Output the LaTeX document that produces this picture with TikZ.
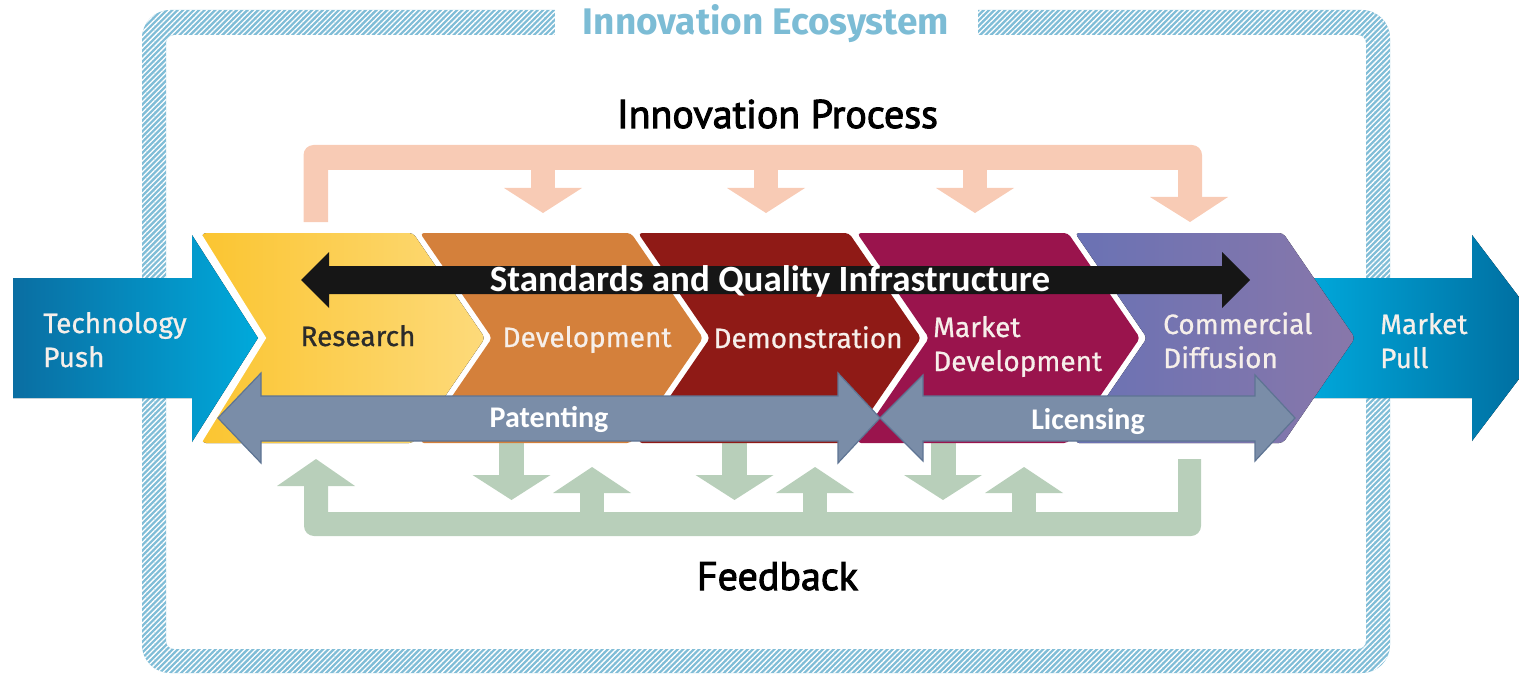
\documentclass[tikz,border=0pt]{standalone}
\usepackage{fontspec}
\setmainfont{Fira Sans}
\newfontfamily\firamed{Fira Sans}[FakeBold=0.7]
\newfontfamily\ptsans{PT Sans}[FakeBold=2.5]
\newfontfamily\carlito{Carlito}
\usetikzlibrary{patterns.meta}
\definecolor{ecoblue}{HTML}{80BDD7}
\definecolor{ecotext}{HTML}{7CBCD5}
\definecolor{peach}{HTML}{F8CBB5}
\definecolor{sage}{HTML}{B8CFBA}
\definecolor{resL}{HTML}{FBC531}
\definecolor{resR}{HTML}{FDDA7A}
\definecolor{devC}{HTML}{D4803B}
\definecolor{demC}{HTML}{8F1A16}
\definecolor{mktC}{HTML}{9A144D}
\definecolor{comL}{HTML}{6A72B4}
\definecolor{comR}{HTML}{8877AA}
\definecolor{pushL}{HTML}{0A6EA2}
\definecolor{pushR}{HTML}{00A9DB}
\definecolor{pullL}{HTML}{00AADD}
\definecolor{pullR}{HTML}{00689A}
\definecolor{sqiC}{HTML}{161616}
\definecolor{patC}{HTML}{7A8DA8}
\definecolor{patD}{HTML}{5E7493}
\definecolor{lblW}{HTML}{F6EFEA}
\definecolor{resT}{HTML}{2B2B2B}
\begin{document}
\begin{tikzpicture}[x=1pt,y=-1pt,
  lbl/.style={font=\firamed\fontsize{28}{34}\selectfont, text=lblW, inner sep=0pt},
  lblL/.style={lbl, align=left, anchor=base west},
  head/.style={font=\ptsans\fontsize{40}{44}\selectfont, text=black, inner sep=0pt, anchor=base},
  barlbl/.style={font=\carlito\bfseries\fontsize{30}{34}\selectfont, text=white, inner sep=0pt, anchor=base},
  blockarrow/.style={fill=patC, draw=patD, line width=1.2pt, line join=miter}
]
\useasboundingbox (0,0) rectangle (1519,674);
% ecosystem frame
\fill[ecoblue, even odd rule, rounded corners=28] (142,10) rectangle (1390,673) [rounded corners=8] (166,35) rectangle (1366,649);
\fill[pattern={Lines[angle=45,distance=3.8pt,line width=1.3pt]}, pattern color=white, even odd rule, rounded corners=28] (142,10) rectangle (1390,673) [rounded corners=8] (166,35) rectangle (1366,649);
\fill[white] (555,0) rectangle (978,42);
\node[font=\bfseries\fontsize{37}{40}\selectfont, text=ecotext, inner sep=0pt, anchor=base] (eco) at (766,35) {Innovation Ecosystem};

% innovation process bracket
\fill[peach] (303.5,200) [rounded corners=10] -- (303.5,145) -- (1202,145) -- (1202,180) [sharp corners] -- (1202,197) -- (1178,197) -- (1178,170) -- (328,170) -- (328,222) -- (303.5,222) -- cycle;
\fill[peach] (1150,197) -- (1190,222) -- (1228,197) -- cycle;
\foreach \c in {543,766,975}{
  \fill[peach] (\c-12,169) rectangle (\c+12,189);
  \fill[peach] (\c-39,188) -- (\c,213) -- (\c+39,188) -- cycle;
}
\node[head] (proc) at (777.5,128) {Innovation Process};

% feedback bracket
\fill[sage] (304,500) [rounded corners=10] -- (304,536) -- (1201,536) -- (1201,500) [sharp corners] -- (1201,459) -- (1178,459) -- (1178,512) -- (328,512) -- (328,485) -- (304,485) -- cycle;
\fill[sage] (277,486) -- (316,459) -- (355,486) -- cycle;
\foreach \c in {592,815,1024}{
  \fill[sage] (\c-12,492) rectangle (\c+12,513);
  \fill[sage] (\c-39,493) -- (\c,467) -- (\c+39,493) -- cycle;
}
\foreach \c in {511.5,734.5,943}{
  \fill[sage] (\c-12.5,440) rectangle (\c+12.5,476);
  \fill[sage] (\c-39,475) -- (\c,500) -- (\c+39,475) -- cycle;
}
\node[head] (fb) at (777.5,590) {Feedback};

% market pull arrow
\fill[left color=pullL, right color=pullR] (1300,278) -- (1472,278) -- (1472,235) -- (1550,338) -- (1472,441) -- (1472,398) -- (1300,398) -- cycle;

% chevrons
\fill[left color=resL, right color=resR, rounded corners=4] (202,233) -- (413,233) -- (485,338) -- (413,443) -- (202,443) -- cycle;
\fill[devC, rounded corners=4] (420,233) -- (631,233) -- (703,338) -- (631,443) -- (420,443) -- (492,338) -- cycle;
\fill[demC, rounded corners=4] (638,233) -- (849,233) -- (921,338) -- (849,443) -- (638,443) -- (710,338) -- cycle;
\fill[mktC, rounded corners=4] (857,233) -- (1068,233) -- (1140,338) -- (1068,443) -- (857,443) -- (929,338) -- cycle;
\fill[left color=comL, right color=comR, rounded corners=4] (1075,233) -- (1283,233) -- (1355,338) -- (1283,443) -- (1075,443) -- (1147,338) -- cycle;

% technology push arrow
\draw[white, line width=14pt, line join=miter] (192,232) -- (258,338) -- (192,445);
\fill[left color=pushL, right color=pushR] (13,278) -- (192,278) -- (192,235) -- (258,338) -- (192,442) -- (192,398) -- (13,398) -- cycle;

% standards double arrow
\fill[sqiC] (301,280) -- (329,252) -- (329,266) -- (1222,266) -- (1222,252) -- (1250,280) -- (1222,308) -- (1222,294) -- (329,294) -- (329,308) -- cycle;
\node[font=\carlito\bfseries\fontsize{37}{40}\selectfont, text=white, inner sep=0pt, anchor=base] (sqi) at (770,291) {Standards and Quality Infrastructure};

% patenting / licensing
\path[blockarrow] (218,418) -- (261,373) -- (261,396) -- (838,396) -- (838,373) -- (880,418) -- (838,463) -- (838,441) -- (261,441) -- (261,463) -- cycle;
\path[blockarrow] (880,418) -- (923,375) -- (923,396) -- (1255,396) -- (1255,375) -- (1295,418) -- (1255,461) -- (1255,441) -- (923,441) -- (923,461) -- cycle;
\node[barlbl] (pat) at (549,427) {Patenting};
\node[barlbl] (lic) at (1088,429) {Licensing};

% labels (base = last line)
\node[lblL] (push) at (43,367) {Technology\\Push};
\node[lbl, anchor=base, text=resT] (res) at (358,346) {Research};
\node[lbl, anchor=base] (dev) at (587,347) {Development};
\node[lbl, anchor=base] (dem) at (808,348) {Demonstration};
\node[lblL] (mkt) at (933,371) {Market\\Development};
\node[lblL] (com) at (1163,368) {Commercial\\Diffusion};
\node[lblL] (pull) at (1380,368) {Market\\Pull};
\end{tikzpicture}
\end{document}
